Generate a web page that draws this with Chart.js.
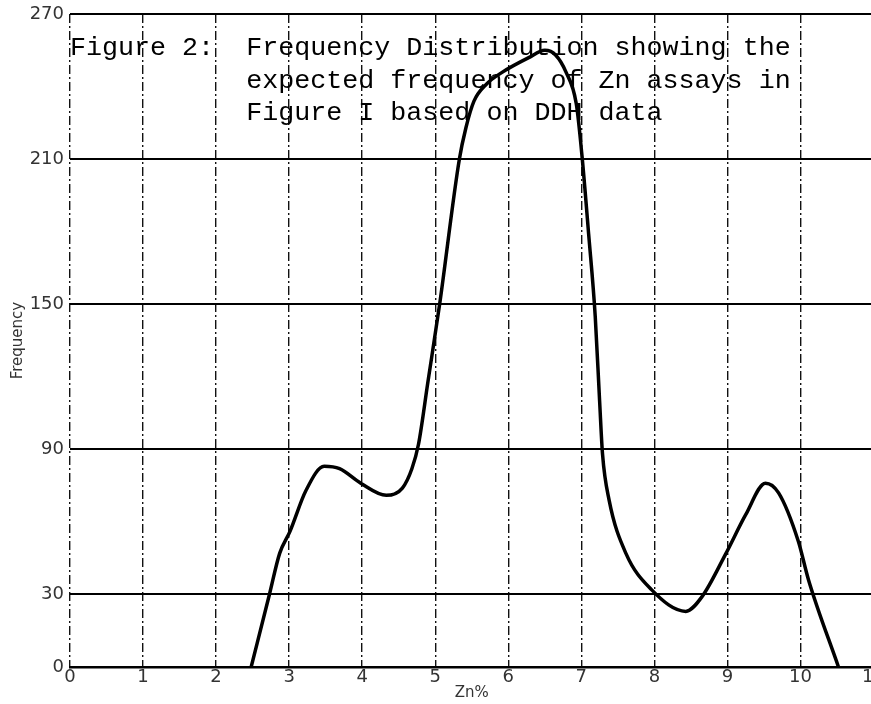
<!DOCTYPE html>
<html>
<head>
<meta charset="utf-8">
<script src="https://cdn.jsdelivr.net/npm/chart.js@4/dist/chart.umd.min.js"></script>
<style>
  html, body { margin: 0; padding: 0; background: #fff; overflow: hidden; width: 871px; height: 704px; }
  #wrap { position: absolute; left: 0; top: 0; width: 887px; height: 704px; }
</style>
</head>
<body>
<div id="wrap"><canvas id="c" width="887" height="704"></canvas></div>
<script>
// ---- data ----
const ZN_PCT = [2.48, 2.73, 2.87, 3.01, 3.23, 3.48, 3.69, 3.98, 4.33, 4.55, 4.68, 4.77, 4.90, 5.06, 5.33, 5.42, 5.53, 5.70, 5.92, 6.28, 6.50, 6.65, 6.79, 6.93, 7.01, 7.10, 7.19, 7.25, 7.29, 7.38, 7.61, 7.96, 8.43, 8.65, 8.98, 9.25, 9.52, 9.70, 9.97, 10.11, 10.52];
const FREQUENCY = [0, 30, 47, 56, 73, 83, 82, 76, 71, 74, 82, 92, 118, 150, 210, 223, 234, 241, 246, 252, 255, 253, 246, 233, 211, 179, 145, 110, 88, 69, 47, 32, 23, 29, 47, 63, 76, 72, 52, 36, 0];
const X_TICKS = [0, 1, 2, 3, 4, 5, 6, 7, 8, 9, 10, 11];
const Y_TICKS = [0, 30, 90, 150, 210, 270];
const TITLE_LINES = [
  "Figure 2:  Frequency Distribution showing the",
  "           expected frequency of Zn assays in",
  "           Figure I based on DDH data"
];
const X_TITLE = "Zn%";
const Y_TITLE = "Frequency";

const points = ZN_PCT.map((x, i) => ({ x: x, y: FREQUENCY[i] }));

const titlePlugin = {
  id: 'figTitle',
  beforeDatasetsDraw(chart) {
    const ctx = chart.ctx;
    const area = chart.chartArea;
    ctx.save();
    ctx.fillStyle = '#000';
    ctx.font = '26.7px "Liberation Mono", "Courier New", monospace';
    ctx.textBaseline = 'alphabetic';
    ctx.textAlign = 'left';
    const baselines = [55, 88, 120];
    TITLE_LINES.forEach((t, i) => ctx.fillText(t, area.left, baselines[i]));
    ctx.restore();
  }
};

const tickFont = { family: '"DejaVu Sans", sans-serif', size: 18, lineHeight: 0.9 };

new Chart(document.getElementById('c'), {
  type: 'line',
  data: {
    datasets: [{
      data: points,
      borderColor: '#000',
      borderWidth: 3.5,
      pointRadius: 0,
      fill: false,
      cubicInterpolationMode: 'monotone'
    }]
  },
  options: {
    responsive: false,
    animation: false,
    devicePixelRatio: 1,
    layout: { padding: { top: 8, right: 0, bottom: 0, left: 0 } },
    plugins: { legend: { display: false }, tooltip: { enabled: false }, title: { display: false } },
    scales: {
      x: {
        type: 'linear',
        min: 0,
        max: 11,
        afterBuildTicks(scale) { scale.ticks = X_TICKS.map(v => ({ value: v })); },
        afterFit(scale) { scale.height = 37; },
        ticks: { color: '#333', font: tickFont, padding: 2, maxRotation: 0, autoSkip: false,
                 callback: v => String(v) },
        grid: { color: '#111', lineWidth: 1.4, drawTicks: false },
        border: { display: true, color: '#000', width: 2.5, dash: [9, 3, 2, 3] },
        title: { display: true, text: X_TITLE, color: '#333',
                 font: { family: '"DejaVu Sans", sans-serif', size: 15 }, padding: { top: 0, bottom: 2 } }
      },
      y: {
        type: 'linear',
        min: 0,
        max: 270,
        afterBuildTicks(scale) { scale.ticks = Y_TICKS.map(v => ({ value: v })); },
        afterFit(scale) { scale.width = 70; },
        ticks: { color: '#333', font: tickFont, padding: 6, autoSkip: false },
        grid: { color: '#000', lineWidth: 2, drawTicks: false },
        border: { display: false },
        title: { display: true, text: Y_TITLE, color: '#333',
                 font: { family: '"DejaVu Sans", sans-serif', size: 15 }, padding: { top: 9, bottom: 0 } }
      }
    }
  },
  plugins: [titlePlugin]
});
</script>
</body>
</html>
